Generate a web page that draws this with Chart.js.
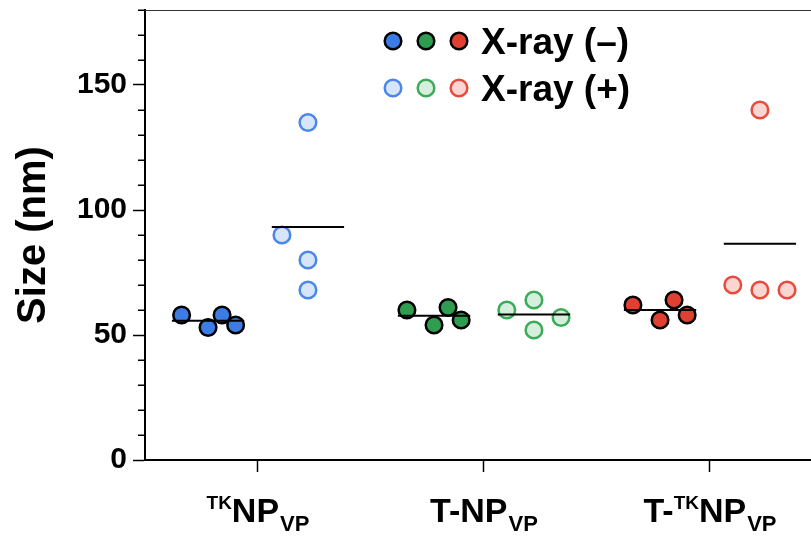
<!DOCTYPE html>
<html><head><meta charset="utf-8">
<script src="https://cdn.jsdelivr.net/npm/chart.js@4.4.0/dist/chart.umd.min.js"></script>
<style>html,body{margin:0;padding:0;background:#fff;}canvas{display:block;}</style>
</head><body>
<canvas id="c" width="811" height="538"></canvas>
<script>
// ---- data ----
const categories = ['TKNPVP', 'T-NPVP', 'T-TKNPVP'];
const categoryLabelParts = [
  [['TK', 'sup'], ['NP', 'main'], ['VP', 'sub']],
  [['T-NP', 'main'], ['VP', 'sub']],
  [['T-', 'main'], ['TK', 'sup'], ['NP', 'main'], ['VP', 'sub']]
];
const seriesNames = ['X-ray (–)', 'X-ray (+)'];
const xrayMinus = [[58, 53, 58, 54], [60, 54, 61, 56], [62, 56, 64, 58]];
const xrayPlus = [[90, 135, 80, 68], [60, 64, 52, 57], [70, 140, 68, 68]];
const yMajorTicks = [0, 50, 100, 150];

// ---- layout / style ----
const groupOffset = 0.221;
const jitterMinus = [[-0.117, 0, 0.062, 0.122], [-0.12, 0, 0.062, 0.12], [-0.12, 0, 0.062, 0.12]];
const jitterPlus = [[-0.115, 0, 0, 0], [-0.12, 0, 0, 0.12], [-0.12, 0, 0, 0.12]];
const meanHalfWidth = 0.16;
const solidFill = ['#3b7de4', '#2f9d4f', '#e0402f'];
const openBorder = ['#4a87e9', '#3aab57', '#e84a3c'];
const openFill = ['#d7e5fb', '#d6eedc', '#fad6d3'];
const FONT = '"Liberation Sans", Arial, Helvetica, sans-serif';

const mean = a => a.reduce((s, v) => s + v, 0) / a.length;

const datasets = [];
categories.forEach((c, i) => {
  const cx = i + 1;
  [[xrayMinus, jitterMinus, -groupOffset, true], [xrayPlus, jitterPlus, groupOffset, false]].forEach(([src, jit, off, solid]) => {
    const vals = src[i];
    const gx = cx + off;
    const m = mean(vals);
    datasets.push({
      type: 'line', order: 0, showLine: true,
      data: [{x: gx - meanHalfWidth, y: m}, {x: gx + meanHalfWidth, y: m}],
      borderColor: '#000', borderWidth: 2, pointRadius: 0, fill: false
    });
    datasets.push({
      type: 'scatter', order: 1,
      data: vals.map((v, k) => ({x: gx + jit[i][k], y: v})),
      pointRadius: 8.3, pointHoverRadius: 8.3,
      backgroundColor: solid ? solidFill[i] : openFill[i],
      borderColor: solid ? '#000' : openBorder[i],
      borderWidth: 2.5
    });
  });
});

const extras = {
  id: 'extras',
  afterDraw(chart) {
    const {ctx, chartArea: a, scales: {x, y}} = chart;
    ctx.save();
    // top thin frame line
    ctx.strokeStyle = '#333'; ctx.lineWidth = 1;
    ctx.beginPath(); ctx.moveTo(a.left, a.top + 0.5); ctx.lineTo(a.right, a.top + 0.5); ctx.stroke();
    // minor y ticks
    ctx.strokeStyle = '#000'; ctx.lineWidth = 1.5;
    for (let v = y.min; v <= y.max; v += 10) {
      if (yMajorTicks.includes(v)) continue;
      const py = Math.round(y.getPixelForValue(v)) + 0.25;
      ctx.beginPath(); ctx.moveTo(a.left - 7, py); ctx.lineTo(a.left, py); ctx.stroke();
    }
    // x category labels with super/subscripts
    const fonts = {main: 'bold 34px ' + FONT, sup: 'bold 19px ' + FONT, sub: 'bold 22px ' + FONT};
    const dy = {main: 0, sup: -13, sub: 9};
    const gap = {main: 0, sup: 0, sub: 1};
    ctx.fillStyle = '#000'; ctx.textBaseline = 'alphabetic'; ctx.textAlign = 'left';
    categoryLabelParts.forEach((parts, i) => {
      let w = 0;
      const widths = parts.map(([t, k]) => { ctx.font = fonts[k]; const ww = ctx.measureText(t).width + gap[k]; w += ww; return ww; });
      let px = x.getPixelForValue(i + 1) - w / 2;
      const base = 522;
      parts.forEach(([t, k], j) => {
        ctx.font = fonts[k];
        ctx.fillText(t, px + gap[k], base + dy[k]);
        px += widths[j];
      });
    });
    // legend
    const lx = [393, 426, 459];
    const ly = [41, 88];
    [0, 1].forEach(r => {
      lx.forEach((cx, i) => {
        ctx.beginPath(); ctx.arc(cx, ly[r], 8.3, 0, Math.PI * 2);
        ctx.fillStyle = r === 0 ? solidFill[i] : openFill[i];
        ctx.fill();
        ctx.lineWidth = 2.5; ctx.strokeStyle = r === 0 ? '#000' : openBorder[i];
        ctx.stroke();
      });
      ctx.fillStyle = '#000';
      ctx.font = 'bold 37px ' + FONT;
      ctx.fillText(seriesNames[r], 481, ly[r] + 13);
    });
    ctx.restore();
  }
};

new Chart(document.getElementById('c'), {
  type: 'scatter',
  data: {datasets},
  options: {
    responsive: false, animation: false, devicePixelRatio: 1,
    layout: {autoPadding: false, padding: {top: 10, left: 0, right: 0, bottom: 0}},
    plugins: {legend: {display: false}, tooltip: {enabled: false}},
    scales: {
      x: {
        type: 'linear', min: 0.5, max: 3.447,
        afterBuildTicks: s => { s.ticks = categories.map((c, i) => ({value: i + 1})); },
        afterFit: s => { s.height = 78; s.paddingLeft = 0; s.paddingRight = 0; s.paddingTop = 0; s.paddingBottom = 0; },
        ticks: {callback: () => '', autoSkip: false},
        grid: {drawOnChartArea: false, drawTicks: true, tickLength: 12, tickColor: '#000', tickWidth: 1.5},
        border: {color: '#000', width: 2}
      },
      y: {
        min: 0, max: 180,
        afterBuildTicks: s => { const t = []; for (let v = 0; v <= 180; v += 10) t.push({value: v}); s.ticks = t; },
        afterFit: s => { s.width = 145; s.paddingTop = 0; s.paddingBottom = 0; s.paddingLeft = 0; s.paddingRight = 0; },
        ticks: {
          autoSkip: false, padding: 6, color: '#000',
          font: {family: FONT, size: 30, weight: 'bold'},
          callback: v => yMajorTicks.includes(v) ? String(v) : ''
        },
        grid: {
          drawOnChartArea: false, drawTicks: true, tickLength: 12, tickWidth: 1.5,
          tickColor: c => (c.tick && yMajorTicks.includes(c.tick.value)) ? '#000' : 'rgba(0,0,0,0)'
        },
        border: {color: '#000', width: 2},
        title: {display: true, text: 'Size (nm)', color: '#000', font: {family: FONT, size: 40, weight: 'bold'}, padding: {top: 10, bottom: 0}}
      }
    }
  },
  plugins: [extras]
});
</script>
</body></html>
